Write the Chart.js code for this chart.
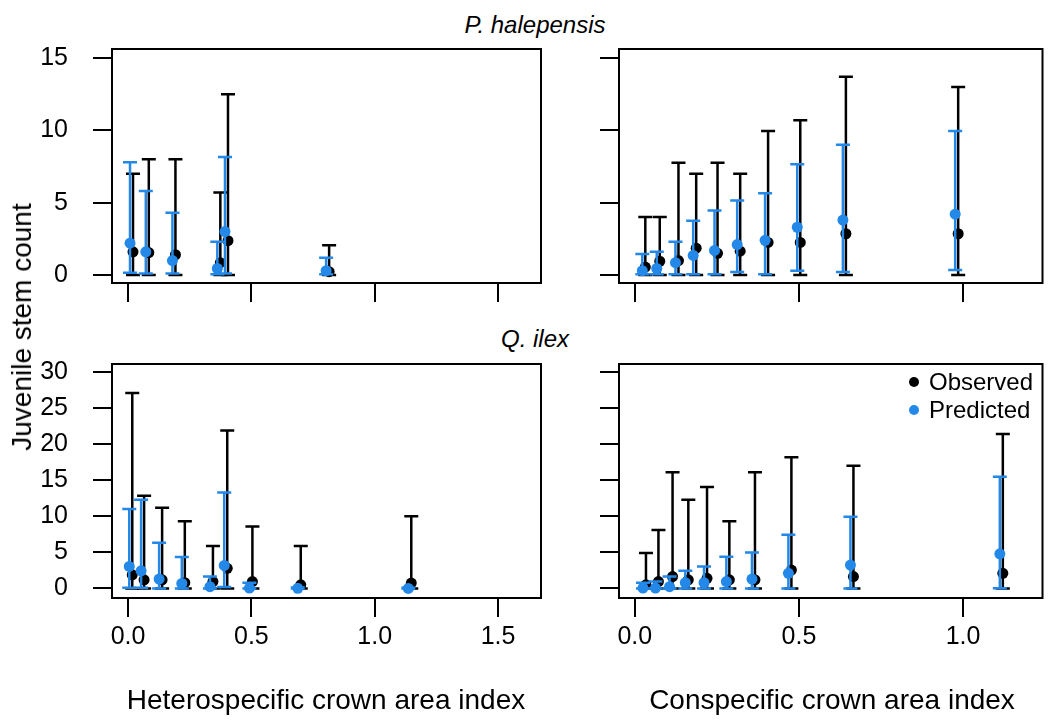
<!DOCTYPE html>
<html>
<head>
<meta charset="utf-8">
<script src="https://cdn.jsdelivr.net/npm/chart.js@4.4.1/dist/chart.umd.min.js"></script>
<style>
  body { margin: 0; background: #fff; }
  #fig { position: relative; width: 1048px; height: 720px; overflow: hidden; font-family: Arial, "Liberation Sans", sans-serif; color: #000; }
  #fig canvas { position: absolute; }
  .txt { position: absolute; white-space: nowrap; transform: translate(-50%, -50%); }
  .ttl { font-size: 24px; font-style: italic; }
  .axt { font-size: 28px; }
  .leg { position: absolute; font-size: 24px; white-space: nowrap; line-height: 28px; }
  .leg span.dot { display: inline-block; width: 10px; height: 10px; border-radius: 50%; margin-right: 10px; vertical-align: 3px; }
</style>
</head>
<body>
<div id="fig">
  <canvas id="phHet" width="560" height="280" style="left:0;top:40px"></canvas>
  <canvas id="phCon" width="488" height="280" style="left:560px;top:40px"></canvas>
  <canvas id="qiHet" width="560" height="365" style="left:0;top:355px"></canvas>
  <canvas id="qiCon" width="488" height="365" style="left:560px;top:355px"></canvas>

  <div class="txt ttl" style="left:535px;top:25px">P. halepensis</div>
  <div class="txt ttl" style="left:535px;top:339px">Q. ilex</div>
  <div class="txt axt" style="left:22px;top:327px;transform:translate(-50%,-50%) rotate(-90deg)">Juvenile stem count</div>
  <div class="txt axt" style="left:326px;top:700px">Heterospecific crown area index</div>
  <div class="txt axt" style="left:832px;top:700px">Conspecific crown area index</div>

  <div class="leg" style="left:909px;top:368px">
    <div><span class="dot" style="background:#000"></span>Observed</div>
    <div><span class="dot" style="background:#2388e8"></span>Predicted</div>
  </div>
</div>

<script>
// tick positions
const xTicksHet = [0, 0.5, 1.0, 1.5];
const xTicksCon = [0, 0.5, 1.0];
const yTicksPh = [0, 5, 10, 15];
const yTicksQi = [0, 5, 10, 15, 20, 25, 30];

// P. halepensis ~ heterospecific crown area
const phHetX = [0.008, 0.072, 0.18, 0.362, 0.393, 0.803];
const phHetObs = [1.6, 1.55, 1.4, 0.85, 2.37, 0.23];
const phHetObsLo = [0, 0, 0, 0, 0, 0];
const phHetObsHi = [7.0, 8.0, 8.0, 5.7, 12.5, 2.05];
const phHetPred = [2.2, 1.6, 1.0, 0.45, 3.0, 0.3];
const phHetPredLo = [0.15, 0.1, 0.1, 0.05, 0.1, 0.05];
const phHetPredHi = [7.8, 5.8, 4.3, 2.3, 8.15, 1.2];

// P. halepensis ~ conspecific crown area
const phConX = [0.023, 0.067, 0.124, 0.178, 0.243, 0.312, 0.397, 0.495, 0.634, 0.976];
const phConObs = [0.55, 0.95, 1.0, 1.85, 1.5, 1.65, 2.25, 2.25, 2.85, 2.85];
const phConObsLo = [0, 0, 0, 0, 0, 0, 0, 0, 0, 0];
const phConObsHi = [4.0, 4.0, 7.75, 7.0, 7.75, 7.0, 9.95, 10.7, 13.7, 13.0];
const phConPred = [0.3, 0.45, 0.85, 1.35, 1.7, 2.1, 2.4, 3.3, 3.8, 4.2];
const phConPredLo = [0.05, 0.05, 0.05, 0.05, 0.05, 0.2, 0.05, 0.3, 0.2, 0.35];
const phConPredHi = [1.45, 1.6, 2.3, 3.75, 4.45, 5.15, 5.65, 7.65, 9.0, 9.95];

// Q. ilex ~ heterospecific crown area
const qiHetX = [0.005, 0.053, 0.126, 0.218, 0.332, 0.39, 0.492, 0.688, 1.136];
const qiHetObs = [1.9, 1.2, 1.2, 0.8, 0.95, 2.8, 0.95, 0.5, 0.75];
const qiHetObsLo = [0, 0, 0, 0, 0, 0, 0, 0, 0];
const qiHetObsHi = [27.1, 12.85, 11.2, 9.3, 5.9, 21.9, 8.6, 5.9, 10.0];
const qiHetPred = [3.05, 2.45, 1.3, 0.7, 0.25, 3.2, 0.05, 0.02, 0.0];
const qiHetPredLo = [0.1, 0.1, 0, 0, 0, 0.2, 0, 0, 0];
const qiHetPredHi = [11.0, 12.3, 6.35, 4.35, 1.65, 13.3, 0.8, 0.15, 0.1];

// Q. ilex ~ conspecific crown area
const qiConX = [0.025, 0.063, 0.106, 0.154, 0.211, 0.279, 0.357, 0.468, 0.657, 1.112];
const qiConObs = [0.5, 0.95, 1.65, 1.2, 1.4, 1.2, 1.2, 2.55, 1.65, 2.1];
const qiConObsLo = [0, 0, 0, 0, 0, 0, 0, 0, 0, 0];
const qiConObsHi = [4.9, 8.1, 16.1, 12.3, 14.05, 9.3, 16.1, 18.2, 17.0, 21.4];
const qiConPred = [0.05, 0.05, 0.25, 0.8, 0.8, 0.95, 1.3, 2.1, 3.25, 4.8];
const qiConPredLo = [0, 0, 0, 0, 0, 0, 0, 0, 0, 0.03];
const qiConPredHi = [0.8, 0.95, 1.65, 2.45, 3.05, 4.4, 5.0, 7.45, 9.95, 15.5];

const BLUE = "#2388e8";
const CAP = 7;
const FONT = "Arial, 'Liberation Sans', sans-serif";

// vertical error bars with caps, drawn just before each dataset's points
const errorBars = {
  id: "errorBars",
  beforeDatasetDraw(chart, args) {
    const ds = chart.data.datasets[args.index];
    const ctx = chart.ctx;
    const y = chart.scales.y;
    ctx.save();
    ctx.translate(ds.dodge || 0, 0); // observed sits a few px to the right
    ctx.strokeStyle = ds.backgroundColor;
    ctx.lineWidth = 2.5;
    args.meta.data.forEach((pt, i) => {
      const hi = y.getPixelForValue(ds.hi[i]);
      const lo = y.getPixelForValue(ds.lo[i]);
      ctx.beginPath();
      ctx.moveTo(pt.x, hi);
      ctx.lineTo(pt.x, lo);
      ctx.moveTo(pt.x - CAP, hi);
      ctx.lineTo(pt.x + CAP, hi);
      ctx.moveTo(pt.x - CAP, lo);
      ctx.lineTo(pt.x + CAP, lo);
      ctx.stroke();
    });
  },
  afterDatasetDraw(chart) {
    chart.ctx.restore();
  },
};

// box around the plotting region
const frame = {
  id: "frame",
  beforeDatasetsDraw(chart) {
    const a = chart.chartArea;
    const ctx = chart.ctx;
    ctx.save();
    ctx.strokeStyle = "#000";
    ctx.lineWidth = 2;
    ctx.strokeRect(a.left, a.top, a.right - a.left, a.bottom - a.top);
    ctx.restore();
  },
};

function toPoints(xs, ys) {
  return xs.map((x, i) => ({ x: x, y: ys[i] }));
}

function noPad(s) {
  s.paddingTop = 0;
  s.paddingBottom = 0;
  s.paddingLeft = 0;
  s.paddingRight = 0;
}

function makePanel(id, p) {
  return new Chart(document.getElementById(id), {
    type: "scatter",
    data: {
      datasets: [
        {
          label: "Observed",
          data: toPoints(p.x, p.obs),
          lo: p.obsLo,
          hi: p.obsHi,
          dodge: 3,
          order: 2,
          backgroundColor: "#000",
          borderColor: "#000",
          pointRadius: 5.5,
          borderWidth: 0,
        },
        {
          label: "Predicted",
          data: toPoints(p.x, p.pred),
          lo: p.predLo,
          hi: p.predHi,
          dodge: 0,
          order: 1,
          backgroundColor: BLUE,
          borderColor: BLUE,
          pointRadius: 5.5,
          borderWidth: 0,
        },
      ],
    },
    options: {
      responsive: false,
      animation: false,
      events: [],
      layout: { padding: { top: 9, right: p.padRight, left: 0, bottom: 0 } },
      plugins: { legend: { display: false }, tooltip: { enabled: false } },
      scales: {
        x: {
          type: "linear",
          min: p.xMin,
          max: p.xMax,
          afterBuildTicks: (s) => {
            s.ticks = p.xTicks.map((v) => ({ value: v }));
          },
          afterFit: (s) => {
            s.height = p.xHeight;
            noPad(s);
          },
          ticks: {
            display: p.xLabels,
            autoSkip: false,
            maxRotation: 0,
            padding: 5,
            color: "#000",
            font: { size: 25, family: FONT },
            callback: (v) => v.toFixed(1),
          },
          grid: { drawOnChartArea: false, tickLength: 19, color: "#000", lineWidth: 2 },
          border: { display: false },
        },
        y: {
          type: "linear",
          min: p.yMin,
          max: p.yMax,
          afterBuildTicks: (s) => {
            s.ticks = p.yTicks.map((v) => ({ value: v }));
          },
          afterFit: (s) => {
            s.width = p.yWidth;
            noPad(s);
          },
          ticks: {
            display: p.yLabels,
            padding: 25,
            color: "#000",
            font: { size: 25, family: FONT },
          },
          grid: { drawOnChartArea: false, tickLength: 19, color: "#000", lineWidth: 2 },
          border: { display: false },
        },
      },
    },
    plugins: [frame, errorBars],
  });
}

const hetCol = { xMin: -0.065, xMax: 1.674, xTicks: xTicksHet, yWidth: 112, padRight: 19, yLabels: true };
const conCol = { xMin: -0.048, xMax: 1.242, xTicks: xTicksCon, yWidth: 59, padRight: 2, yLabels: false };
const pinusRow = { yMin: -0.553, yMax: 15.62, yTicks: yTicksPh, xHeight: 37, xLabels: false };
const quercusRow = { yMin: -1.32, yMax: 31.11, yTicks: yTicksQi, xHeight: 122, xLabels: true };

makePanel("phHet", Object.assign({}, hetCol, pinusRow, {
  x: phHetX, obs: phHetObs, obsLo: phHetObsLo, obsHi: phHetObsHi,
  pred: phHetPred, predLo: phHetPredLo, predHi: phHetPredHi,
}));
makePanel("phCon", Object.assign({}, conCol, pinusRow, {
  x: phConX, obs: phConObs, obsLo: phConObsLo, obsHi: phConObsHi,
  pred: phConPred, predLo: phConPredLo, predHi: phConPredHi,
}));
makePanel("qiHet", Object.assign({}, hetCol, quercusRow, {
  x: qiHetX, obs: qiHetObs, obsLo: qiHetObsLo, obsHi: qiHetObsHi,
  pred: qiHetPred, predLo: qiHetPredLo, predHi: qiHetPredHi,
}));
makePanel("qiCon", Object.assign({}, conCol, quercusRow, {
  x: qiConX, obs: qiConObs, obsLo: qiConObsLo, obsHi: qiConObsHi,
  pred: qiConPred, predLo: qiConPredLo, predHi: qiConPredHi,
}));
</script>
</body>
</html>
